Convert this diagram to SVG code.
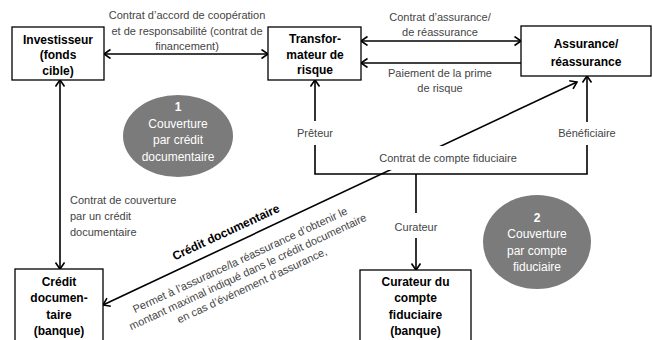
<svg xmlns="http://www.w3.org/2000/svg" width="653" height="340" viewBox="0 0 653 340">
<defs>
<marker id="arr" markerUnits="userSpaceOnUse" markerWidth="12" markerHeight="12" refX="8" refY="5" orient="auto-start-reverse">
<path d="M1.5,0.5 L8,5 L1.5,9.5" fill="none" stroke="#000" stroke-width="1.6"/>
</marker>
</defs>
<style>
.box{fill:#fff;stroke:#000;stroke-width:1.3}
.bt{font-family:"Liberation Sans",Arial,sans-serif;font-size:12px;font-weight:bold;fill:#000;text-anchor:middle}
.lb{font-family:"Liberation Sans",Arial,sans-serif;font-size:11px;fill:#444;text-anchor:middle}
.ct{font-family:"Liberation Sans",Arial,sans-serif;font-size:12px;fill:#fff;text-anchor:middle}
.circ{fill:#7b7b7b}
.con{fill:none;stroke:#000;stroke-width:1.6}
.bg{fill:#fff}
</style>
<rect width="653" height="340" fill="#fff"/>
<g id="connectors">
<path class="con" d="M104,54 H268" marker-start="url(#arr)" marker-end="url(#arr)"/>
<path class="con" d="M60,80 V269" marker-start="url(#arr)" marker-end="url(#arr)"/>
<path class="con" d="M361,41 H521" marker-start="url(#arr)" marker-end="url(#arr)"/>
<path class="con" d="M521,63 H361" marker-end="url(#arr)"/>
<path class="con" d="M315,80 V174 H587 V76" marker-start="url(#arr)" marker-end="url(#arr)"/>
<path class="con" d="M416,174 V270" marker-end="url(#arr)"/>
<path class="con" d="M103,305 L577,82" marker-start="url(#arr)" marker-end="url(#arr)"/>
</g>
<g id="labels">
<text class="lb" x="187" y="19">Contrat d’accord de coopération</text>
<text class="lb" x="187" y="34.5">et de responsabilité (contrat de</text>
<text class="lb" x="187" y="50">financement)</text>
<text class="lb" x="440" y="21">Contrat d’assurance/</text>
<text class="lb" x="440" y="36">de réassurance</text>
<text class="lb" x="440" y="77">Paiement de la prime</text>
<text class="lb" x="440" y="92">de risque</text>
<rect class="bg" x="292" y="121" width="46" height="24"/>
<text class="lb" x="315" y="137">Prêteur</text>
<rect class="bg" x="555" y="122" width="64" height="23"/>
<text class="lb" x="587" y="137">Bénéficiaire</text>
<rect class="bg" x="392" y="213" width="48" height="25"/>
<text class="lb" x="416" y="231">Curateur</text>
<rect class="bg" x="362" y="146" width="172" height="24"/>
<text class="lb" x="448" y="162">Contrat de compte fiduciaire</text>
<text class="lb" x="70" y="204" style="text-anchor:start">Contrat de couverture</text>
<text class="lb" x="70" y="219.5" style="text-anchor:start">par un crédit</text>
<text class="lb" x="70" y="235.5" style="text-anchor:start">documentaire</text>
<g transform="translate(240,241) rotate(-25)">
<text class="bt" x="-9" y="-10">Crédit documentaire</text>
<text class="lb" x="-8" y="21">Permet à l’assurance/la réassurance d’obtenir le</text>
<text class="lb" x="-6" y="35">montant maximal indiqué dans le crédit documentaire</text>
<text class="lb" x="-8" y="49">en cas d’événement d’assurance,</text>
</g>
</g>
<g id="investisseur">
<rect class="box" x="12" y="27" width="92" height="53"/>
<text class="bt" x="58" y="43.5">Investisseur</text>
<text class="bt" x="58" y="58.5">(fonds</text>
<text class="bt" x="58" y="74.5">cible)</text>
</g>
<g id="transformateur">
<rect class="box" x="268" y="27" width="93" height="53"/>
<text class="bt" x="315" y="42.5">Transfor-</text>
<text class="bt" x="315" y="58.5">mateur de</text>
<text class="bt" x="315" y="74">risque</text>
</g>
<g id="assurance">
<rect class="box" x="521" y="26" width="130" height="50"/>
<text class="bt" x="586" y="47.5">Assurance/</text>
<text class="bt" x="586" y="65.5">réassurance</text>
</g>
<g id="credit">
<rect class="box" x="15" y="269" width="88" height="80"/>
<text class="bt" x="59" y="285.5">Crédit</text>
<text class="bt" x="59" y="302">documen-</text>
<text class="bt" x="59" y="318.5">taire</text>
<text class="bt" x="59" y="335">(banque)</text>
</g>
<g id="curateur">
<rect class="box" x="360" y="270" width="111" height="80"/>
<text class="bt" x="415.5" y="285.5">Curateur du</text>
<text class="bt" x="415.5" y="302">compte</text>
<text class="bt" x="415.5" y="318.5">fiduciaire</text>
<text class="bt" x="415.5" y="335">(banque)</text>
</g>
<g id="couverture1">
<ellipse class="circ" cx="178" cy="136" rx="55" ry="41"/>
<text class="ct" x="178" y="111" font-weight="bold">1</text>
<text class="ct" x="178" y="127.5">Couverture</text>
<text class="ct" x="178" y="144">par crédit</text>
<text class="ct" x="178" y="161">documentaire</text>
</g>
<g id="couverture2">
<ellipse class="circ" cx="537" cy="242" rx="54" ry="47"/>
<text class="ct" x="537" y="222" font-weight="bold">2</text>
<text class="ct" x="537" y="238">Couverture</text>
<text class="ct" x="537" y="255">par compte</text>
<text class="ct" x="537" y="271">fiduciaire</text>
</g>
</svg>
